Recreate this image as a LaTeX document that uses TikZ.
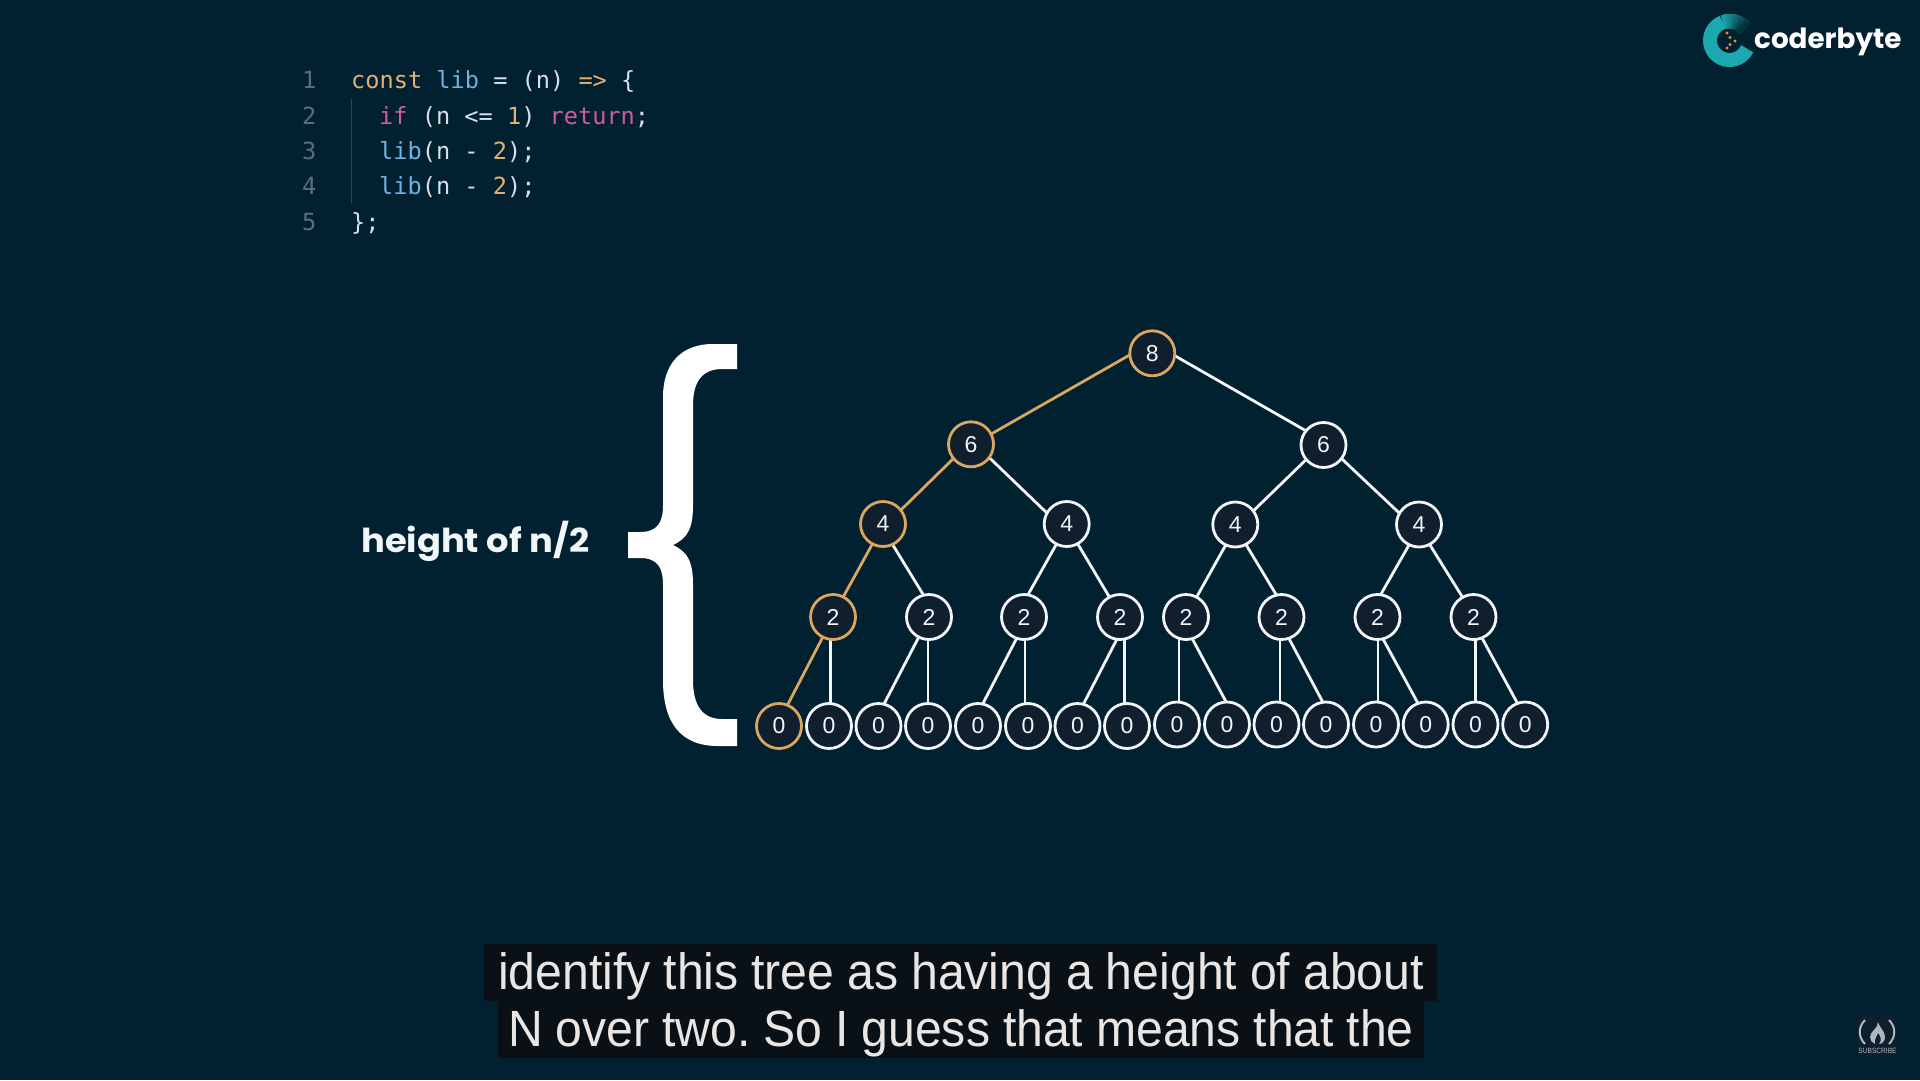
\documentclass[tikz,border=0pt]{standalone}
\usepackage{fontspec}
\setmainfont{Liberation Sans}
\newfontfamily\codefont{DejaVu Sans Mono}
\newfontfamily\popfont{Poppins}
\newfontfamily\hgtfont[FakeStretch=1.07]{Poppins}
\newfontfamily\capfont[FakeStretch=.945]{Liberation Sans}
\newfontfamily\capfontb[FakeStretch=.945,WordSpace=.965]{Liberation Sans}
\newfontfamily\narrowfont[FakeStretch=.87]{Liberation Sans}
\definecolor{bg}{HTML}{022130}
\definecolor{nodefill}{HTML}{101F2E}
\definecolor{hl}{HTML}{D9A75F}
\definecolor{wht}{HTML}{F2F6F8}
\definecolor{kwor}{HTML}{E3AF72}
\definecolor{kwbl}{HTML}{6FB2E2}
\definecolor{kwpk}{HTML}{CF5C98}
\definecolor{plain}{HTML}{D6E0E6}
\definecolor{lnum}{HTML}{5E6E78}
\definecolor{guide}{HTML}{34444F}
\definecolor{capbox}{HTML}{0A1116}
\definecolor{captxt}{HTML}{EAE6E3}
\definecolor{teal}{HTML}{1AA9AE}
\definecolor{dotsc}{HTML}{E8962E}
\definecolor{subc}{HTML}{AEB9BF}
\pgfdeclarelayer{edges}
\pgfsetlayers{edges,main}
\tikzset{
  tn/.style={circle,draw=wht,line width=2.8pt,fill=nodefill,minimum size=45pt,inner sep=0pt,outer sep=0pt,text=wht,font=\fontsize{23}{25}\selectfont},
  hn/.style={tn,draw=hl},
  te/.style={draw=wht,line width=2.8pt},
  he/.style={draw=hl,line width=2.8pt},
  codeline/.style={anchor=base west,inner sep=0pt,text=plain,font=\codefont\fontsize{23.6}{28}\selectfont},
  numline/.style={anchor=base west,inner sep=0pt,text=lnum,font=\codefont\fontsize{23.6}{28}\selectfont},
  captext/.style={anchor=base,inner sep=0pt,text=captxt,font=\capfont\fontsize{51}{54}\selectfont},
  captextb/.style={anchor=base,inner sep=0pt,text=captxt,font=\capfontb\fontsize{50.95}{54}\selectfont},
}
\begin{document}
\begin{tikzpicture}[x=1pt,y=-1pt]
\useasboundingbox (0,0) rectangle (1920,1080);
\begin{pgfonlayer}{edges}
\fill[bg] (0,0) rectangle (1920,1080);
\end{pgfonlayer}
% code
\node[numline] (l1) at (302,88) {1};
\node[numline] (l2) at (302,124) {2};
\node[numline] (l3) at (302,159) {3};
\node[numline] (l4) at (302,194) {4};
\node[numline] (l5) at (302,230) {5};
\fill[guide] (351.2,99) rectangle (352.4,203);
\node[codeline] (c1) at (351,88) {\textcolor{kwor}{const} \textcolor{kwbl}{lib} = (n) \textcolor{kwor}{=>} \{};
\node[codeline] (c2) at (379,124) {\textcolor{kwpk}{if} (n <= \textcolor{kwor}{1}) \textcolor{kwpk}{return};};
\node[codeline] (c3) at (379,159) {\textcolor{kwbl}{lib}(n - \textcolor{kwor}{2});};
\node[codeline] (c4) at (379,194) {\textcolor{kwbl}{lib}(n - \textcolor{kwor}{2});};
\node[codeline] (c5) at (351,230) {\};};
% brace
\fill[white] (737,344) -- (713,344) .. controls (680,344) and (663,365) .. (663,397)
  -- (663,505) .. controls (663,522) and (658,532) .. (640,532) -- (628,532) -- (628,558) -- (640,558)
  .. controls (658,558) and (663,568) .. (663,585) -- (663,680)
  .. controls (663,722) and (680,746) .. (718,746) -- (737,746) -- (737,719) -- (722,719)
  .. controls (702,719) and (693,705) .. (693,680) -- (693,585)
  .. controls (693,562) and (688,552) .. (673,545)
  .. controls (688,538) and (693,528) .. (693,505) -- (693,405)
  .. controls (693,382) and (702,369) .. (722,369) -- (737,369) -- cycle;
\node[anchor=base west,inner sep=0pt,text=wht,font=\hgtfont\bfseries\fontsize{33}{36}\selectfont] (hgt) at (361,552) {height of n/2};
% tree nodes
\node[hn] (a) at (1152.3,353.3) {8};
\node[hn] (b1) at (971,444.3) {6};
\node[tn] (b2) at (1323.5,445) {6};
\node[hn] (c1n) at (883,524) {4};
\node[tn] (c2n) at (1066.7,524) {4};
\node[tn] (c3n) at (1235.3,524.5) {4};
\node[tn] (c4n) at (1419,524.5) {4};
\node[hn] (d1) at (833,617) {2};
\node[tn] (d2) at (929,617) {2};
\node[tn] (d3) at (1024,617) {2};
\node[tn] (d4) at (1120,617) {2};
\node[tn] (d5) at (1186,617) {2};
\node[tn] (d6) at (1281.5,617) {2};
\node[tn] (d7) at (1377.5,617) {2};
\node[tn] (d8) at (1473.5,617) {2};
\node[hn] (e1) at (779,726) {0};
\node[tn] (e2) at (829,726) {0};
\node[tn] (e3) at (878.5,726) {0};
\node[tn] (e4) at (928,726) {0};
\node[tn] (e5) at (978,726) {0};
\node[tn] (e6) at (1028,726) {0};
\node[tn] (e7) at (1077.5,726) {0};
\node[tn] (e8) at (1127,726) {0};
\node[tn] (e9) at (1177,724.5) {0};
\node[tn] (e10) at (1227,724.5) {0};
\node[tn] (e11) at (1276.5,724.5) {0};
\node[tn] (e12) at (1326,724.5) {0};
\node[tn] (e13) at (1376,724.5) {0};
\node[tn] (e14) at (1425.7,724.5) {0};
\node[tn] (e15) at (1475.5,724.5) {0};
\node[tn] (e16) at (1525.2,724.5) {0};
% vertical drop anchors
\coordinate (v1) at (830.7,617);
\coordinate (v2) at (928,617);
\coordinate (v3) at (1025,617);
\coordinate (v4) at (1124.3,617);
\coordinate (v5) at (1179,617);
\coordinate (v6) at (1280,617);
\coordinate (v7) at (1378,617);
\coordinate (v8) at (1475.3,617);
\begin{pgfonlayer}{edges}
\draw[he] (a.184) -- (b1.27);
\draw[te] (a.354) -- (b2.141);
\draw[he] (b1.219) -- (c1n.38);
\draw[te] (b1.324) -- (c2n.151);
\draw[te] (b2.220) -- (c3n.37);
\draw[te] (b2.323) -- (c4n.150);
\draw[he] (c1n.242) -- (d1.63);
\draw[te] (c1n.295) -- (d2.104);
\draw[te] (c2n.243) -- (d3.80);
\draw[te] (c2n.299) -- (d4.118);
\draw[te] (c3n.245) -- (d5.62);
\draw[te] (c3n.298) -- (d6.103);
\draw[te] (c4n.244) -- (d7.82);
\draw[te] (c4n.298) -- (d8.119);
\draw[he] (d1.243) -- (e1.68);
\draw[te] (v1) -- (v1 |- e2.center);
\draw[te] (d2.243) -- (e3.76);
\draw[te] (v2) -- (v2 |- e4.center);
\draw[te] (d3.251) -- (e5.78);
\draw[te] (v3) -- (v3 |- e6.center);
\draw[te] (d4.262) -- (e7.75);
\draw[te] (v4) -- (v4 |- e8.center);
\draw[te] (v5) -- (v5 |- e9.center);
\draw[te] (d5.286) -- (e10.92);
\draw[te] (v6) -- (v6 |- e11.center);
\draw[te] (d6.289) -- (e12.98);
\draw[te] (v7) -- (v7 |- e13.center);
\draw[te] (d7.284) -- (e14.110);
\draw[te] (v8) -- (v8 |- e15.center);
\draw[te] (d8.292) -- (e16.110);
\end{pgfonlayer}
% captions
\fill[capbox] (484,944) rectangle (1437,1001);
\fill[capbox] (498,1001) rectangle (1424,1058);
\begingroup\frenchspacing
\node[captext] (cap1) at (961,989) {identify this tree as having a height of about};
\node[captextb] (cap2) at (961,1046) {N over two. So I guess that means that the};
\endgroup
% logo
\begin{scope}[shift={(1729.5,40.5)},y=1pt]
\draw[teal,line width=14pt] (-25:19.5) arc[start angle=-25,delta angle=-225,radius=19.5];
\foreach \a [evaluate=\a as \p using {(\a-40)/0.7}] in {110,107,...,44}{
  \draw[teal!\p!bg,line width=14pt] (\a:19.5) arc[start angle=\a,end angle=40,radius=19.5];
}
\end{scope}
\foreach \x/\y in {1727/33,1730/37.5,1735/41,1730/44.5,1727/48}{
  \fill[dotsc] (\x,\y) circle (1.7);
}
\node[anchor=base west,inner sep=0pt,text=white,font=\popfont\bfseries\fontsize{27.8}{30}\selectfont] (logo) at (1754,48) {coderbyte};
% subscribe
\fill[nodefill] (1858,1016) rectangle (1897,1056);
\draw[subc,line width=2pt] (1865,1020) .. controls (1858,1027) and (1858,1037) .. (1865,1044);
\draw[subc,line width=2pt] (1889,1020) .. controls (1896,1027) and (1896,1037) .. (1889,1044);
\fill[subc] (1878,1022) .. controls (1879,1027) and (1885,1031) .. (1885,1037)
  .. controls (1885,1041) and (1882,1044) .. (1879,1044)
  .. controls (1882,1041) and (1881,1036) .. (1878,1033)
  .. controls (1877,1037) and (1874,1038) .. (1875,1044)
  .. controls (1872,1043) and (1870,1040) .. (1870,1037)
  .. controls (1870,1031) and (1878,1029) .. (1878,1022) -- cycle;
\node[anchor=base,inner sep=0pt,text=subc,font=\narrowfont\fontsize{7.6}{8}\selectfont] (subs) at (1877.5,1053.5) {SUBSCRIBE};
\end{tikzpicture}
\end{document}
